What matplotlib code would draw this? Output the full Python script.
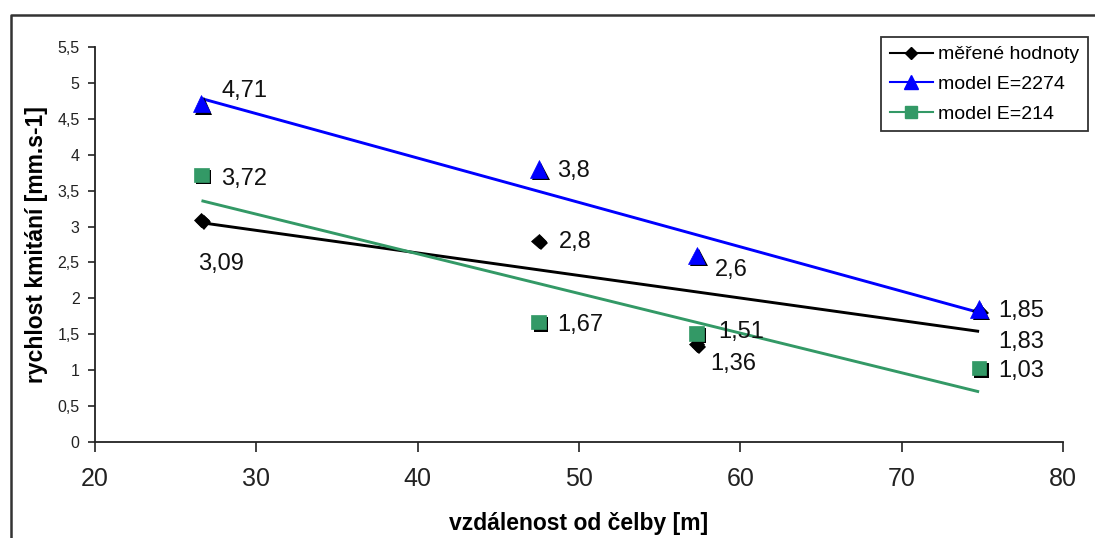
import numpy as np
import matplotlib
matplotlib.use("Agg")
import matplotlib.pyplot as plt
import matplotlib.patheffects as pe
from matplotlib.lines import Line2D

plt.rcParams['font.family'] = ['Liberation Sans', 'DejaVu Sans']

# distance from the face [m]
distance = [26.6, 47.5, 57.3, 74.8]

# vibration velocity [mm/s]
measured = [3.09, 2.80, 1.36, 1.83]
model_2274 = [4.71, 3.80, 2.60, 1.85]
model_214 = [3.72, 1.67, 1.51, 1.03]

series_names = ["měřené hodnoty", "model E=2274", "model E=214"]
x_ticks = [20, 30, 40, 50, 60, 70, 80]
y_ticks = [0, 0.5, 1, 1.5, 2, 2.5, 3, 3.5, 4, 4.5, 5, 5.5]

W, H = 1095, 538
fig = plt.figure(figsize=(W / 100, H / 100), dpi=100)

ax_l, ax_r, ax_t, ax_b = 95, 1063, 47, 442
ax = fig.add_axes([ax_l / W, 1 - ax_b / H, (ax_r - ax_l) / W, (ax_b - ax_t) / H])

styles = [
    dict(color="black", marker="D", ms=7.5),
    dict(color="#0000FF", marker="^", ms=12.5),
    dict(color="#339966", marker="s", ms=10.5),
]
# label offsets in pixels (dx right, dy down) relative to the marker, baseline anchored
label_offsets = [
    [(-3, 50), (20, 7), (13, 26), (19, 37)],
    [(20, -7), (18, 8), (18, 21), (19, 8)],
    [(20, 10), (19, 9), (21, 4), (19, 9)],
]

shadow = [pe.SimplePatchShadow(offset=(1.6, -1.6), shadow_rgbFace="black", alpha=1.0),
          pe.Normal()]

x = np.array(distance)
xs = np.array([x.min(), x.max()])
for vals, st, offs in zip([measured, model_2274, model_214], styles, label_offsets):
    y = np.array(vals)
    slope, intercept = np.polyfit(x, y, 1)
    ax.plot(xs, slope * xs + intercept, color=st["color"], lw=2.1, zorder=2,
            solid_capstyle="butt")
    ax.plot(x, y, linestyle="none", marker=st["marker"], ms=st["ms"],
            markerfacecolor=st["color"], markeredgecolor=st["color"], markeredgewidth=0.5,
            zorder=3, path_effects=shadow)
    for xi, yi, (dx, dy) in zip(x, y, offs):
        txt = f"{yi:g}".replace(".", ",")
        ax.annotate(txt, (xi, yi), xytext=(dx, -dy), textcoords="offset pixels",
                    ha="left", va="baseline", fontsize=17, color="#111111", zorder=4)

ax.set_xlim(20, 80)
ax.set_ylim(0, 5.5)
ax.set_xticks(x_ticks)
ax.set_yticks(y_ticks)
ax.set_xticklabels([str(t) for t in x_ticks], fontsize=18)
ax.set_yticklabels([f"{t:g}".replace(".", ",") for t in y_ticks], fontsize=11.5)
ax.tick_params(axis="x", direction="out", length=7, width=1.2, pad=11, colors="#222222")
ax.tick_params(axis="y", direction="out", length=5, width=1.2, pad=6, colors="#222222")
for s in ["top", "right"]:
    ax.spines[s].set_visible(False)
for s in ["left", "bottom"]:
    ax.spines[s].set_linewidth(1.3)
    ax.spines[s].set_color("#222222")

ax.set_ylabel("rychlost kmitání [mm.s-1]", fontsize=16.5, fontweight="bold")
ax.set_xlabel("vzdálenost od čelby [m]", fontsize=16.5, fontweight="bold")
ax.yaxis.set_label_coords((48 - ax_l) / (ax_r - ax_l), 0.5)
ax.xaxis.set_label_coords(0.5, (ax_b - 512) / (ax_b - ax_t))

handles = [Line2D([], [], color=st["color"], lw=1.5, marker=st["marker"],
                  ms=st["ms"] * 0.8, markerfacecolor=st["color"], markeredgecolor=st["color"])
           for st in styles]
leg = ax.legend(handles, series_names, loc="upper left",
                bbox_to_anchor=(881 / W, 1 - 37 / H), bbox_transform=fig.transFigure,
                borderaxespad=0, fancybox=False, framealpha=1, edgecolor="#333333",
                fontsize=14, handlelength=2.2, handletextpad=0.3, labelspacing=0.62,
                borderpad=0.45, frameon=True)
leg.get_frame().set_linewidth(1.3)

# outer chart border
fig.add_artist(Line2D([11 / W, 11 / W, 1.01], [-0.01, 1 - 15 / H, 1 - 15 / H],
                      transform=fig.transFigure, color="#333333", lw=1.8))

fig.savefig("out.png", dpi=100)
